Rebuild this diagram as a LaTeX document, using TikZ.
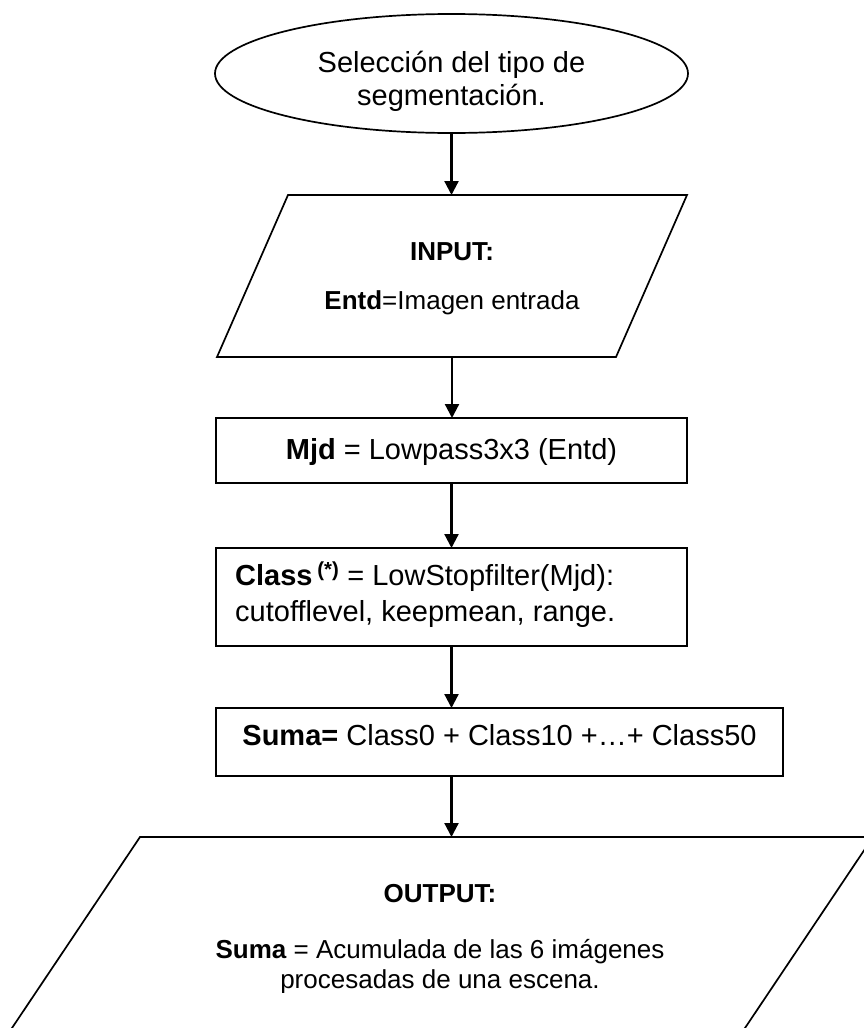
\documentclass[tikz,border=0pt]{standalone}
\usepackage{fontspec}
\setmainfont{Liberation Sans}
\usetikzlibrary{shapes.geometric,arrows.meta}
\begin{document}
\begin{tikzpicture}[x=1pt,y=-1pt,
  shapeline/.style={draw=black,line width=1.7pt,inner sep=0pt,outer sep=0pt},
  boxnode/.style={shapeline,rectangle},
  area/.style={rectangle,inner sep=0pt,outer sep=0pt},
  arr/.style={draw=black,line width=2.2pt,-{Triangle[length=14pt,width=14pt]}},
  bigtxt/.style={inner sep=0pt,font=\fontsize{29}{33}\selectfont},
  midtxt/.style={inner sep=0pt,font=\fontsize{26}{30}\selectfont},
]
\useasboundingbox (0,0) rectangle (864,1028);
\clip (0,0) rectangle (864,1028);

% start ellipse
\node[shapeline,ellipse,minimum width=473pt,minimum height=119pt] (start) at (451.5,73.5) {};
\node[bigtxt,align=center] (starttxt) at (451.5,81.5) {Selección del tipo de\\segmentación.};

% input parallelogram
\node[area,minimum width=399pt,minimum height=162pt] (input) at (452,276) {};
\draw[shapeline,line join=miter] ([xshift=35.5pt]input.north west) -- ([xshift=35.5pt]input.north east)
  -- ([xshift=-35.5pt]input.south east) -- ([xshift=-35.5pt]input.south west) -- cycle;
\node[midtxt] (inputtitle) at (452,252) {\textbf{INPUT:}};
\node[midtxt] (inputtxt) at (452,303) {\textbf{Entd}=Imagen entrada};

% lowpass box
\node[boxnode,minimum width=471pt,minimum height=65pt] (lowpass) at (451.5,450.5) {};
\node[bigtxt] (lowpasstxt) at (451.5,452) {\textbf{Mjd} = Lowpass3x3 (Entd)};

% class box
\node[boxnode,minimum width=471pt,minimum height=98pt] (class) at (451.5,597) {};
\node[bigtxt,align=left,anchor=west,font=\fontsize{29}{36}\selectfont] (classtxt) at (235,595)
  {\textbf{Class}\,\textsuperscript{\textbf{(*)}} = LowStopfilter(Mjd):\\cutofflevel, keepmean, range.};

% suma box
\node[boxnode,minimum width=567pt,minimum height=68pt] (suma) at (499.5,742) {};
\node[bigtxt] (sumatxt) at (499.5,735) {\textbf{Suma=} Class0 + Class10 +…+ Class50};

% output parallelogram
\node[area,minimum width=733pt,minimum height=208pt] (output) at (436.8,941) {};
\draw[shapeline,line join=miter] ([xshift=69.7pt]output.north west) -- ([xshift=69.7pt]output.north east)
  -- ([xshift=-69.7pt]output.south east) -- ([xshift=-69.7pt]output.south west) -- cycle;
\node[midtxt] (outtitle) at (440,894) {\textbf{OUTPUT:}};
\begin{scope}
  \clip (0,0) rectangle (864,992);
  \node[midtxt,align=center] (outtext) at (440,967) {\textbf{Suma} = Acumulada de las 6 imágenes\\procesadas de una escena.};
\end{scope}

% connectors
\draw[arr] (start.south) -- (start.south |- input.north);
\draw[arr] (input.south) -- (input.south |- lowpass.north);
\draw[arr] (lowpass.south) -- (class.north);
\draw[arr] (class.south) -- (class.south |- suma.north);
\draw[arr] (class.south |- suma.south) -- (class.south |- output.north);
\end{tikzpicture}
\end{document}
